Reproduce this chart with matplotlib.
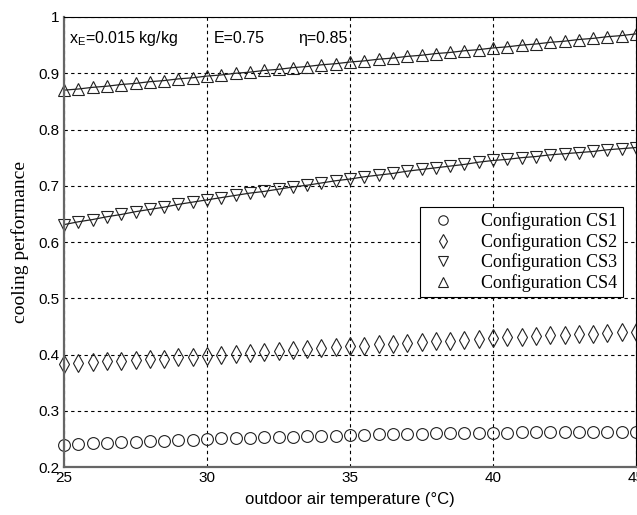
import matplotlib
matplotlib.use("Agg")
import matplotlib.pyplot as plt
from matplotlib.ticker import FuncFormatter

# outdoor air temperature, 25..45 in 0.5 steps
temps = [25.0, 25.5, 26.0, 26.5, 27.0, 27.5, 28.0, 28.5, 29.0, 29.5,
         30.0, 30.5, 31.0, 31.5, 32.0, 32.5, 33.0, 33.5, 34.0, 34.5,
         35.0, 35.5, 36.0, 36.5, 37.0, 37.5, 38.0, 38.5, 39.0, 39.5,
         40.0, 40.5, 41.0, 41.5, 42.0, 42.5, 43.0, 43.5, 44.0, 44.5, 45.0]

cs1 = [0.240, 0.241, 0.242, 0.243, 0.244, 0.245, 0.246, 0.247, 0.248, 0.249,
       0.250, 0.251, 0.252, 0.252, 0.253, 0.254, 0.254, 0.255, 0.256, 0.256,
       0.257, 0.257, 0.258, 0.258, 0.259, 0.259, 0.260, 0.260, 0.260, 0.261,
       0.261, 0.261, 0.262, 0.262, 0.262, 0.262, 0.263, 0.263, 0.263, 0.263, 0.263]

cs2 = [0.383, 0.385, 0.386, 0.388, 0.389, 0.391, 0.392, 0.393, 0.395, 0.396,
       0.398, 0.400, 0.401, 0.403, 0.405, 0.406, 0.408, 0.410, 0.411, 0.413,
       0.415, 0.416, 0.418, 0.419, 0.421, 0.422, 0.424, 0.425, 0.426, 0.428,
       0.430, 0.431, 0.432, 0.433, 0.434, 0.435, 0.436, 0.437, 0.438, 0.440, 0.441]

cs3 = [0.631, 0.636, 0.640, 0.645, 0.649, 0.654, 0.658, 0.662, 0.667, 0.671,
       0.675, 0.679, 0.683, 0.687, 0.690, 0.694, 0.698, 0.701, 0.705, 0.709,
       0.712, 0.716, 0.719, 0.722, 0.726, 0.729, 0.732, 0.735, 0.738, 0.742,
       0.745, 0.747, 0.750, 0.752, 0.755, 0.757, 0.759, 0.761, 0.764, 0.766, 0.768]

cs4 = [0.870, 0.872, 0.875, 0.877, 0.880, 0.882, 0.885, 0.887, 0.890, 0.892,
       0.895, 0.897, 0.900, 0.902, 0.905, 0.907, 0.910, 0.912, 0.915, 0.917,
       0.920, 0.922, 0.925, 0.927, 0.930, 0.932, 0.935, 0.937, 0.940, 0.942,
       0.945, 0.947, 0.950, 0.952, 0.955, 0.957, 0.960, 0.962, 0.965, 0.967, 0.970]

labels = ["Configuration CS1", "Configuration CS2",
          "Configuration CS3", "Configuration CS4"]

sans = ["Liberation Sans Narrow", "Liberation Sans", "DejaVu Sans"]
serif = ["Liberation Serif", "DejaVu Serif"]

fig = plt.figure(figsize=(6.37, 5.15), dpi=100)
ax = fig.add_axes([0.1005, 0.093, 0.898, 0.874])

mk = dict(linestyle="none", markerfacecolor="none", markeredgecolor="#222222",
          markeredgewidth=0.8, markersize=8.5, clip_on=False)
ax.plot(temps, cs1, marker="o", label=labels[0], **mk)
ax.plot(temps, cs2, marker="d", label=labels[1], **dict(mk, markersize=9))
ax.plot(temps, cs3, marker="v", label=labels[2], **mk)
ax.plot(temps, cs4, marker="^", label=labels[3], **mk)
# thin lines through the triangle series
ax.plot(temps, cs3, color="#222222", lw=0.9)
ax.plot(temps, cs4, color="#222222", lw=0.9)

ax.set_xlim(25, 45)
ax.set_ylim(0.2, 1.0)
ax.set_xticks([25, 30, 35, 40, 45])
ax.set_yticks([0.2, 0.3, 0.4, 0.5, 0.6, 0.7, 0.8, 0.9, 1.0])
ax.yaxis.set_major_formatter(FuncFormatter(lambda v, p: "%g" % round(v, 1)))
ax.grid(True, color="black", linestyle=(0, (3, 3)), linewidth=0.8)
ax.tick_params(direction="in", length=0, labelsize=11, pad=3)
for t in ax.get_xticklabels() + ax.get_yticklabels():
    t.set_family(sans)

for s in ["left", "bottom"]:
    ax.spines[s].set_color("#666666")
    ax.spines[s].set_linewidth(1.6)
for s in ["top", "right"]:
    ax.spines[s].set_color("black")
    ax.spines[s].set_linewidth(0.8)

ax.set_xlabel("outdoor air temperature (°C)", family=sans, fontsize=12, labelpad=5)
ax.set_ylabel("cooling performance", family=serif, fontsize=14, labelpad=7)

ax.text(0.008, 0.952, r"x$_\mathregular{E}$=0.015 kg/kg", transform=ax.transAxes,
        family=sans, fontsize=11.5, va="center")
ax.text(0.262, 0.952, "E=0.75", transform=ax.transAxes,
        family=sans, fontsize=11.5, va="center")
ax.text(0.41, 0.952, "η=0.85", transform=ax.transAxes,
        family=sans, fontsize=11.5, va="center")

leg = ax.legend(loc="upper right", bbox_to_anchor=(0.993, 0.598),
                prop={"family": serif, "size": 13}, frameon=True,
                fancybox=False, edgecolor="black", framealpha=1,
                handletextpad=1.1, labelspacing=0.15, borderpad=0.3,
                handlelength=2.0, markerscale=0.8)
leg.get_frame().set_linewidth(0.8)

fig.savefig("out.png", dpi=100)
